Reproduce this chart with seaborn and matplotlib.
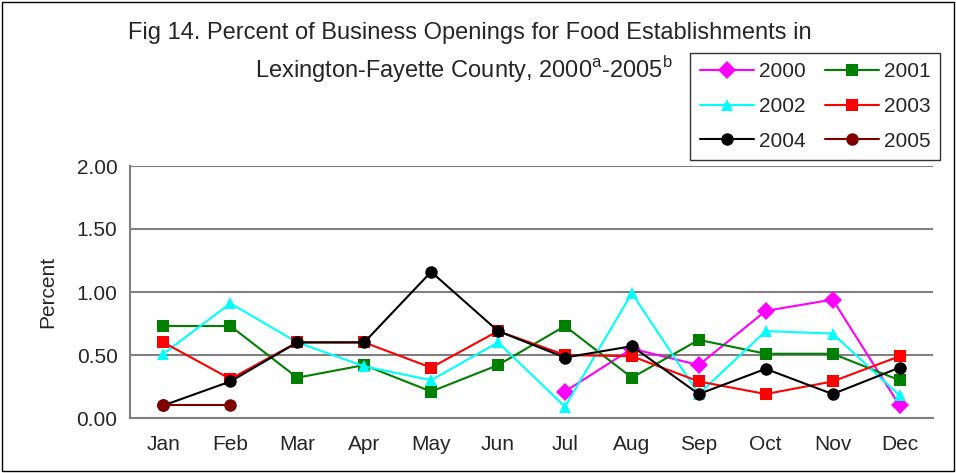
import numpy as np
import pandas as pd
import seaborn as sns
import matplotlib.pyplot as plt
from matplotlib.patches import Rectangle
from matplotlib.lines import Line2D

### data (percent of openings by month)
months = ['Jan', 'Feb', 'Mar', 'Apr', 'May', 'Jun',
          'Jul', 'Aug', 'Sep', 'Oct', 'Nov', 'Dec']
years = ['2000', '2001', '2002', '2003', '2004', '2005']

y2000 = [np.nan, np.nan, np.nan, np.nan, np.nan, np.nan,
         0.21, 0.55, 0.42, 0.85, 0.94, 0.10]
y2001 = [0.73, 0.73, 0.32, 0.42, 0.21, 0.42, 0.73, 0.32, 0.62, 0.51, 0.51, 0.30]
y2002 = [0.51, 0.91, 0.60, 0.41, 0.30, 0.60, 0.09, 0.99, 0.19, 0.69, 0.67, 0.18]
y2003 = [0.60, 0.31, 0.60, 0.60, 0.40, 0.69, 0.50, 0.49, 0.29, 0.19, 0.29, 0.49]
y2004 = [0.10, 0.29, 0.60, 0.60, 1.16, 0.69, 0.48, 0.57, 0.19, 0.39, 0.19, 0.40]
y2005 = [0.10, 0.10, np.nan, np.nan, np.nan, np.nan,
         np.nan, np.nan, np.nan, np.nan, np.nan, np.nan]

colors = {'2000': '#ff00ff', '2001': '#008000', '2002': '#00ffff',
          '2003': '#ff0000', '2004': '#000000', '2005': '#800000'}
markers = {'2000': 'D', '2001': 's', '2002': '^',
           '2003': 's', '2004': 'o', '2005': 'o'}

### long form table for seaborn
series = [y2000, y2001, y2002, y2003, y2004, y2005]
rows = []
for yr, vals in zip(years, series):
    for i, v in enumerate(vals):
        rows.append({'Month': i, 'Year': yr, 'Percent': v})
df = pd.DataFrame(rows).dropna()

sns.set_style('white')
plt.rcParams['font.family'] = ['Liberation Sans', 'DejaVu Sans']
plt.rcParams['mathtext.fontset'] = 'custom'
plt.rcParams['mathtext.rm'] = 'Liberation Sans'

fig = plt.figure(figsize=(9.56, 4.73), dpi=100)
ax = fig.add_axes([130 / 956, 1 - 418 / 473, 803 / 956, 252 / 473])

# gridlines first so the lines sit on top
for g in [0.5, 1.0, 1.5, 2.0]:
    ax.axhline(g, color='#808080', lw=1.5, zorder=0)

sns.lineplot(data=df, x='Month', y='Percent', hue='Year', style='Year',
             palette=colors, markers=markers, dashes=False, errorbar=None,
             linewidth=1.5, markersize=9, markeredgewidth=0,
             legend=False, ax=ax)

ax.set_xlim(-0.5, 11.5)
ax.set_ylim(0, 2)
ax.set_yticks([0, 0.5, 1.0, 1.5, 2.0])
ax.set_yticklabels(['0.00', '0.50', '1.00', '1.50', '2.00'], fontsize=15)
ax.set_xticks(np.arange(-0.5, 12, 1))
ax.set_xticklabels([])
ax.set_xticks(np.arange(12), minor=True)
ax.set_xticklabels(months, minor=True, fontsize=15)
ax.tick_params(axis='x', which='minor', length=0, pad=12)
ax.tick_params(axis='x', which='major', length=5, color='#808080', width=1.2)
ax.tick_params(axis='y', length=5, color='#808080', width=1.2, pad=4)
ax.set_xlabel('')
ax.set_ylabel('Percent', fontsize=15, labelpad=14)

for s in ['top', 'right']:
    ax.spines[s].set_visible(False)
for s in ['left', 'bottom']:
    ax.spines[s].set_color('#808080')
    ax.spines[s].set_linewidth(1.5)

### title, two lines
fig.text(470 / 956, 1 - 33 / 473, 'Fig 14. Percent of Business Openings for Food Establishments in',
         ha='center', va='center', fontsize=17)
fig.text(464 / 956, 1 - 70 / 473, r'Lexington-Fayette County, 2000$^{\mathrm{a}}$-2005$^{\mathrm{b}}$',
         ha='center', va='center', fontsize=17)

### legend, row-wise order like the original (matplotlib fills columns first)
order = ['2000', '2002', '2004', '2001', '2003', '2005']
handles = [Line2D([], [], color=colors[y], marker=markers[y], markersize=9,
                  markeredgewidth=0, lw=1.5) for y in order]
leg = fig.legend(handles, order, ncol=2, loc='upper right',
                 bbox_to_anchor=(940 / 956, 1 - 53 / 473), fontsize=15,
                 frameon=True, fancybox=False, edgecolor='black',
                 handlelength=2.6, handletextpad=0.25, columnspacing=0.9,
                 labelspacing=0.75, borderpad=0.45, borderaxespad=0)
leg.get_frame().set_linewidth(1)

# chart border
fig.patches.append(Rectangle((2 / 956, 2 / 473), 952 / 956, 469 / 473,
                             transform=fig.transFigure, fill=False,
                             edgecolor='black', lw=1))

plt.savefig('out.png', dpi=100)
